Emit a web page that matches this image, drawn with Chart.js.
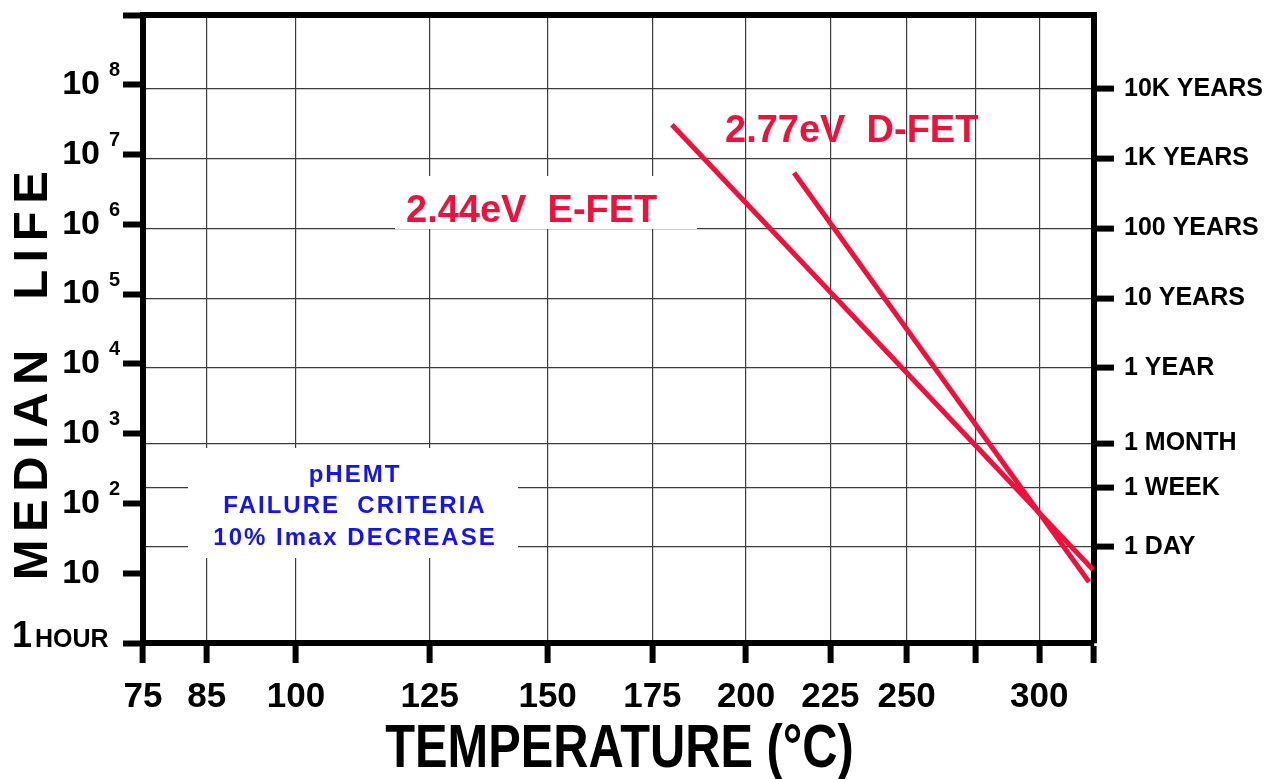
<!DOCTYPE html>
<html>
<head>
<meta charset="utf-8">
<script src="https://cdn.jsdelivr.net/npm/chart.js@4/dist/chart.umd.min.js"></script>
<style>
html, body { margin: 0; padding: 0; background: #fff; }
#wrap { width: 1268px; height: 779px; }
</style>
</head>
<body>
<div id="wrap"><canvas id="lifeChart"></canvas></div>
<script>
// 温度軸の目盛り (°C)  - アレニウス軸 (1/T)
const tempTicks = [75, 85, 100, 125, 150, 175, 200, 225, 250, 275, 300];
const tempLabeled = [75, 85, 100, 125, 150, 175, 200, 225, 250, 300];
const tempMin = 75;
const tempMax = 323.6;

// 左軸 (時間, 10^n)
const lifeDecades = [1, 10, 1e2, 1e3, 1e4, 1e5, 1e6, 1e7, 1e8, 1e9];

// 右軸 (期間)
const periodHours = [24, 168, 730.5, 8766, 87660, 876600, 8766000, 87660000];
const periodLabels = ["1 DAY", "1 WEEK", "1 MONTH", "1 YEAR", "10 YEARS", "100 YEARS", "1K YEARS", "10K YEARS"];

// 寿命線 (温度 °C, 時間)
const efetTemps = [180.0, 323.2];
const efetHours = [2.68e7, 11.2];
const dfetTemps = [213.9, 321.4];
const dfetHours = [5.48e6, 7.5];

const RED = "#F0103C";
const BLUE = "#1414F0";
const SANS = "'Liberation Sans', Arial, sans-serif";

// 温度 -> 1000/T(K)
const toX = t => 1000 / (t + 273.15);

const datasets = [
 {
  label: "2.44eV E-FET",
  data: efetTemps.map((t, i) => ({ x: toX(t), y: efetHours[i] })),
  borderColor: RED,
  borderWidth: 5,
  pointRadius: 0
 },
 {
  label: "2.77eV D-FET",
  data: dfetTemps.map((t, i) => ({ x: toX(t), y: dfetHours[i] })),
  borderColor: RED,
  borderWidth: 5,
  pointRadius: 0
 }
];

// 注記・指数・軸タイトル
const decorations = {
 id: "decorations",
 beforeDatasetsDraw(chart) {
  const ctx = chart.ctx;
  ctx.save();
  // E-FET ラベルの白地
  ctx.fillStyle = "#fff";
  ctx.fillRect(395, 176, 302, 53);
  // pHEMT ボックス
  ctx.fillRect(188, 448, 330, 110);

  ctx.fillStyle = RED;
  ctx.font = "bold 38px " + SANS;
  ctx.textAlign = "left";
  ctx.textBaseline = "alphabetic";
  ctx.fillText("2.44eV  E-FET", 406, 222);
  ctx.fillText("2.77eV  D-FET", 725, 142);

  ctx.fillStyle = BLUE;
  ctx.font = "bold 24px " + SANS;
  ctx.textAlign = "center";
  ctx.letterSpacing = "2px";
  ctx.fillText("pHEMT", 355, 482);
  ctx.fillText("FAILURE  CRITERIA", 355, 513);
  ctx.fillText("10% Imax DECREASE", 355, 545);
  ctx.restore();
 },
 afterDraw(chart) {
  const ctx = chart.ctx;
  const yScale = chart.scales.y;
  const area = chart.chartArea;
  ctx.save();
  ctx.fillStyle = "#000";
  // 指数
  ctx.font = "bold 20px " + SANS;
  ctx.textAlign = "left";
  ctx.textBaseline = "middle";
  lifeDecades.forEach(v => {
   const e = Math.round(Math.log10(v));
   if (e >= 2 && e <= 8) ctx.fillText(String(e), 109, yScale.getPixelForValue(v) - 14);
  });
  // 1 HOUR
  const y0 = yScale.getPixelForValue(1) + 4;
  ctx.textBaseline = "alphabetic";
  ctx.font = "bold 36px " + SANS;
  ctx.fillText("1", 12, y0);
  ctx.font = "bold 25px " + SANS;
  ctx.fillText("HOUR", 35, y0);

  // 横軸タイトル (細身)
  ctx.save();
  ctx.translate((area.left + area.right) / 2 + 1, 767);
  ctx.scale(0.8, 1);
  ctx.font = "bold 61px " + SANS;
  ctx.textAlign = "center";
  ctx.fillText("TEMPERATURE (°C)", 0, 0);
  ctx.restore();

  // 縦軸タイトル
  ctx.translate(33, 372);
  ctx.rotate(-Math.PI / 2);
  ctx.font = "bold 49px " + SANS;
  ctx.letterSpacing = "7.5px";
  ctx.textAlign = "center";
  ctx.textBaseline = "middle";
  ctx.fillText("MEDIAN  LIFE", 0, 0);
  ctx.restore();
 }
};

const noPadV = s => { s.paddingTop = 0; s.paddingBottom = 0; };
const noPadH = s => { s.paddingLeft = 0; s.paddingRight = 0; };

const config = {
 type: "line",
 data: { datasets: datasets },
 options: {
  responsive: true,
  maintainAspectRatio: false,
  animation: false,
  layout: { padding: 0 },
  plugins: {
   legend: { display: false },
   tooltip: { enabled: false }
  },
  scales: {
   x: {
    type: "linear",
    position: "bottom",
    reverse: true,
    min: toX(tempMax),
    max: toX(tempMin),
    afterBuildTicks: s => { s.ticks = tempTicks.concat([tempMax]).map(t => ({ value: toX(t) })); },
    afterFit: s => { s.height = 136; noPadH(s); },
    ticks: {
     autoSkip: false,
     maxRotation: 0,
     minRotation: 0,
     color: "#000",
     padding: 13,
     font: { family: SANS, size: 35, weight: "bold" },
     callback: v => {
      const t = Math.round(1000 / v - 273.15);
      return tempLabeled.includes(t) ? String(t) : "";
     }
    },
    grid: { color: "#3c3c3c", lineWidth: 1.2, tickColor: "#000", tickWidth: 6, tickLength: 20 },
    border: { color: "#000", width: 6 }
   },
   x2: {
    type: "linear",
    position: "top",
    display: true,
    afterFit: s => { s.height = 15; noPadH(s); },
    ticks: { display: false },
    grid: { drawOnChartArea: false, drawTicks: false },
    border: { color: "#000", width: 6 }
   },
   y: {
    type: "logarithmic",
    position: "left",
    min: 1,
    max: 1e9,
    afterBuildTicks: s => { s.ticks = lifeDecades.map(v => ({ value: v })); },
    afterFit: s => { s.width = 143; noPadV(s); },
    ticks: {
     autoSkip: false,
     color: "#000",
     padding: 23,
     font: { family: SANS, size: 34, weight: "bold" },
     callback: v => (v >= 10 && v < 1e9) ? "10" : ""
    },
    grid: { drawOnChartArea: false, tickColor: "#000", tickWidth: 6, tickLength: 20 },
    border: { color: "#000", width: 6 }
   },
   y2: {
    type: "logarithmic",
    position: "right",
    min: 1,
    max: 1e9,
    afterBuildTicks: s => { s.ticks = periodHours.map(v => ({ value: v })); },
    afterFit: s => { s.width = 174; noPadV(s); },
    ticks: {
     autoSkip: false,
     color: "#000",
     padding: 10,
     font: { family: SANS, size: 25, weight: "bold" },
     callback: (v, i) => periodLabels[i]
    },
    grid: { color: "#3c3c3c", lineWidth: 1.2, tickColor: "#000", tickWidth: 6, tickLength: 20 },
    border: { color: "#000", width: 6 }
   }
  }
 },
 plugins: [decorations]
};

const lifeChart = new Chart(document.getElementById("lifeChart"), config);
</script>
</body>
</html>
